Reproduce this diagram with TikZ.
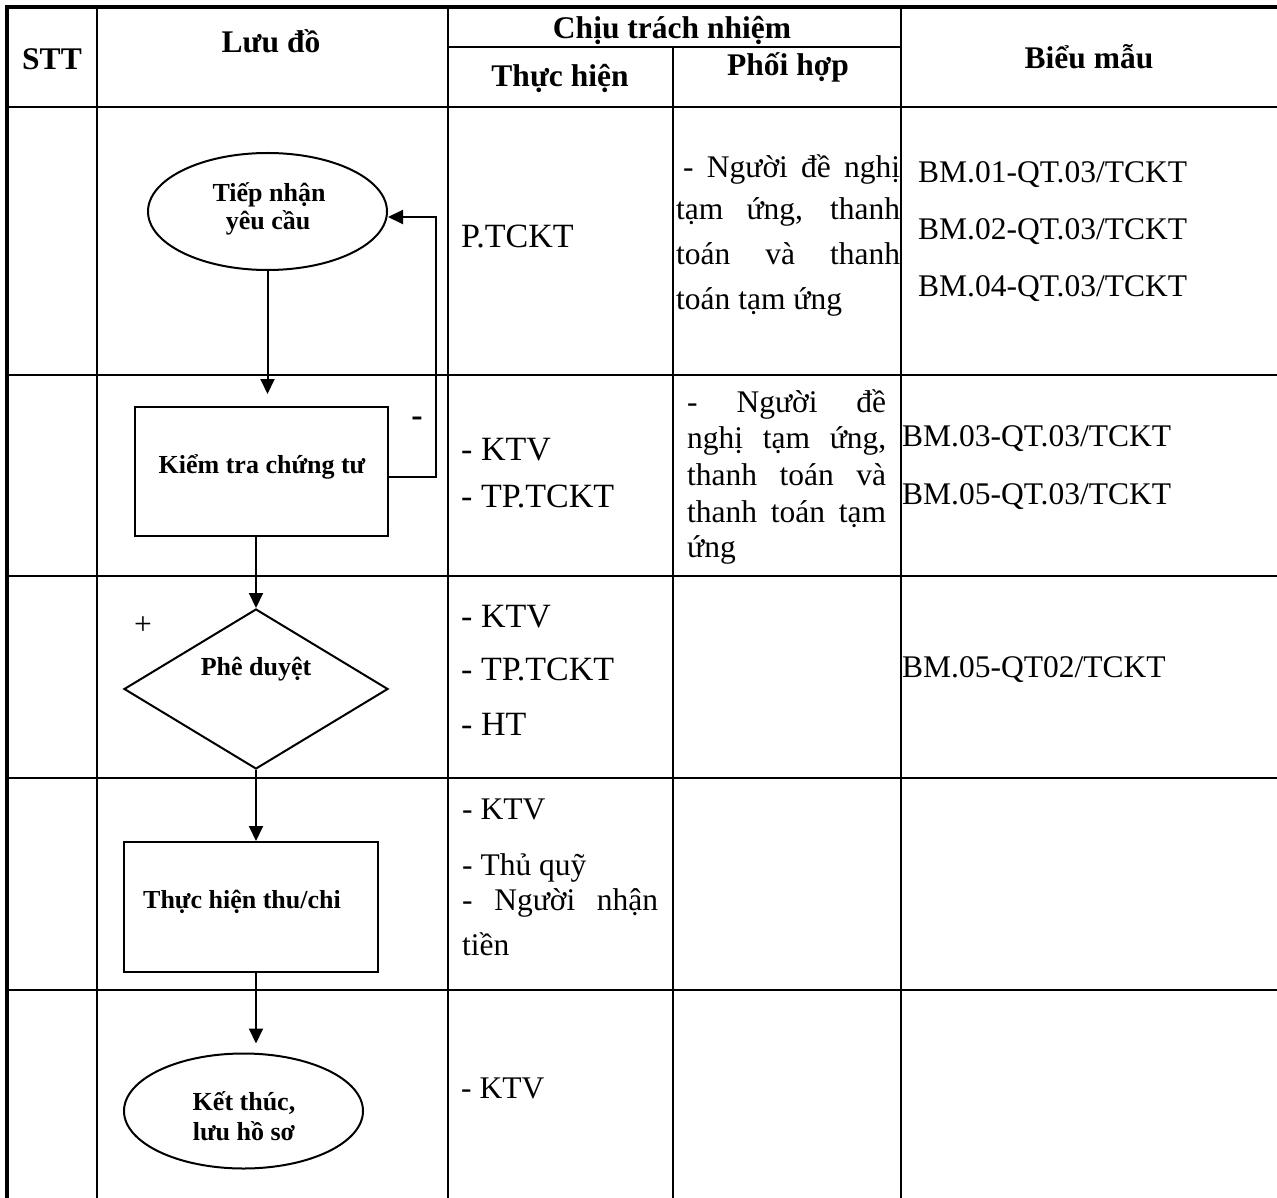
\documentclass[tikz,border=0pt]{standalone}
\usepackage{fontspec}
\setmainfont{Liberation Serif}
\usetikzlibrary{shapes.geometric,arrows.meta}
\begin{document}
\begin{tikzpicture}[x=1pt,y=-1pt,
  tline/.style={line width=2.6pt},
  oline/.style={line width=4pt},
  fline/.style={line width=2pt},
  arr/.style={fline,-{Triangle[length=15pt,width=14pt]}},
  hdr/.style={font=\fontsize{31.5}{36}\selectfont\bfseries, inner sep=0pt, anchor=base},
  txt/.style={font=\fontsize{31.5}{36}\selectfont, inner sep=0pt, anchor=base west},
  bigtxt/.style={font=\fontsize{34}{40}\selectfont, inner sep=0pt, anchor=base west},
  ftxt/.style={font=\fontsize{26}{30}\selectfont\bfseries, inner sep=0pt, anchor=base},
  ellbox/.style={draw, ellipse, line width=2pt, inner sep=0pt},
  rectbox/.style={draw, rectangle, line width=2pt, inner sep=0pt},
  diabox/.style={draw, diamond, line width=2pt, inner sep=0pt},
]
\useasboundingbox (0,0) rectangle (1277,1198);
% table grid
\draw[oline] (7,1198) -- (7,7) -- (1277,7);
\draw[tline] (7,107) -- (1277,107);
\draw[tline] (7,375) -- (1277,375);
\draw[tline] (7,576) -- (1277,576);
\draw[tline] (7,778) -- (1277,778);
\draw[tline] (7,990) -- (1277,990);
\draw[tline] (448,47) -- (901,47);
\draw[tline] (97,7) -- (97,1198);
\draw[tline] (448,7) -- (448,1198);
\draw[tline] (673,47) -- (673,1198);
\draw[tline] (901,7) -- (901,1198);
% headers
\node[hdr] (hSTT) at (52,70) {STT};
\node[hdr] (hLD) at (271,53) {Lưu đồ};
\node[hdr] (hCTN) at (672,39) {Chịu trách nhiệm};
\node[hdr] (hTH) at (560,87) {Thực hiện};
\node[hdr] (hPH) at (788,76) {Phối hợp};
\node[hdr] (hBM) at (1089,69) {Biểu mẫu};
% flowchart shapes
\node[ellbox, minimum width=239pt, minimum height=117pt] (e1) at (267.5,211.5) {};
\node[rectbox, minimum width=253pt, minimum height=129pt] (b1) at (261.5,471.5) {};
\node[diabox, minimum width=264pt, minimum height=160pt] (d) at (256,689) {};
\node[rectbox, minimum width=254pt, minimum height=130pt] (b2) at (251,907) {};
\node[ellbox, minimum width=239pt, minimum height=115pt] (e2) at (243.5,1111) {};
% flowchart texts
\node[ftxt] (te1a) at (269,202) {Tiếp nhận};
\node[ftxt] (te1b) at (268,230) {yêu cầu};
\node[ftxt] (tb1) at (262,473) {Kiểm tra chứng tư};
\node[ftxt] (td) at (256,675) {Phê duyệt};
\node[ftxt] (tb2) at (242,908) {Thực hiện thu/chi};
\node[ftxt] (te2a) at (244,1110) {Kết thúc,};
\node[ftxt] (te2b) at (244,1140) {lưu hồ sơ};
\node[font=\fontsize{31.5}{36}\selectfont, inner sep=0pt] (plus) at (143,626) {+};
\node[font=\fontsize{34}{40}\selectfont\bfseries, inner sep=0pt, anchor=base] (minus) at (417,426) {-};
% connectors
\coordinate (fbA) at (436,477);
\coordinate (fbB) at (436,217);
\draw[arr] (b1.east |- fbA) -- (fbA) -- (fbB) -- (e1.east |- fbB);
\draw[arr, shorten >=12pt] (e1.south) -- (e1.south |- b1.north);
\draw[arr] (d.north |- b1.south) -- (d.north);
\draw[arr] (d.south) -- (d.south |- b2.north);
\draw[arr, shorten >=9pt] (d.south |- b2.south) -- (d.south |- e2.north);
% row 1
\node[bigtxt] (r1th) at (461,248) {P.TCKT};
\node[txt] (r1p1) at (683,178) {\makebox[217pt][s]{- Người đề nghị}};
\node[txt] (r1p2) at (676,220) {\makebox[224pt][s]{tạm ứng, thanh}};
\node[txt] (r1p3) at (676,265) {\makebox[224pt][s]{toán và thanh}};
\node[txt] (r1p4) at (676,310) {toán tạm ứng};
\node[txt] (r1b1) at (918,183) {BM.01-QT.03/TCKT};
\node[txt] (r1b2) at (918,240) {BM.02-QT.03/TCKT};
\node[txt] (r1b3) at (918,297) {BM.04-QT.03/TCKT};
% row 2
\node[bigtxt] (r2t1) at (461,460) {- KTV};
\node[bigtxt] (r2t2) at (461,507) {- TP.TCKT};
\node[txt] (r2p1) at (687,412) {\makebox[199pt][s]{- Người đề}};
\node[txt] (r2p2) at (687,448) {\makebox[199pt][s]{nghị tạm ứng,}};
\node[txt] (r2p3) at (687,485) {\makebox[199pt][s]{thanh toán và}};
\node[txt] (r2p4) at (687,522) {\makebox[199pt][s]{thanh toán tạm}};
\node[txt] (r2p5) at (687,557) {ứng};
\node[txt] (r2b1) at (902,446) {BM.03-QT.03/TCKT};
\node[txt] (r2b2) at (902,504) {BM.05-QT.03/TCKT};
% row 3
\node[bigtxt] (r3t1) at (461,627) {- KTV};
\node[bigtxt] (r3t2) at (461,680) {- TP.TCKT};
\node[bigtxt] (r3t3) at (461,735) {- HT};
\node[txt] (r3b1) at (902,677) {BM.05-QT02/TCKT};
% row 4
\node[txt] (r4t1) at (462,819) {- KTV};
\node[txt] (r4t2) at (462,875) {- Thủ quỹ};
\node[txt] (r4t3) at (462,910) {\makebox[196pt][s]{- Người nhận}};
\node[txt] (r4t4) at (462,955) {tiền};
% row 5
\node[txt] (r5t1) at (461,1098) {- KTV};
\end{tikzpicture}
\end{document}
